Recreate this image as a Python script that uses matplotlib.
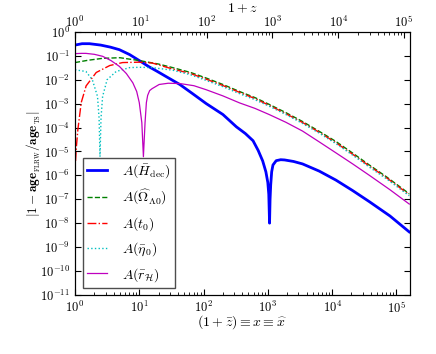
import matplotlib
matplotlib.use("Agg")
import matplotlib.pyplot as plt
from matplotlib.ticker import LogLocator, NullLocator

plt.rcParams["font.family"] = "serif"
plt.rcParams["font.serif"] = ["cmr10"]
plt.rcParams["mathtext.fontset"] = "cm"
plt.rcParams["axes.formatter.use_mathtext"] = True

# A(H_dec)
x_hdec = [1.0, 1.29, 1.68, 2.51, 3.55, 4.9, 7.08, 10, 14.1, 18.6, 28.2, 42.7, 67.6, 110,
          200, 324, 447, 589, 708, 832, 933, 1000, 1035, 1064, 1084, 1109, 1148, 1202,
          1349, 1585, 1820, 2512, 3467, 6310, 11480, 20900, 38000, 79400, 158500]
y_hdec = [0.28, 0.32, 0.32, 0.28, 0.23, 0.18, 0.112, 0.063, 0.035, 0.023, 0.012, 6.3e-3,
          2.6e-3, 1.0e-3, 3.5e-4, 1.07e-4, 5.6e-5, 2.8e-5, 1.1e-5, 4.0e-6, 1.4e-6, 5.0e-7,
          1.6e-7, 1.0e-8, 1.0e-7, 4.0e-7, 1.4e-6, 2.7e-6, 4.1e-6, 4.5e-6, 4.4e-6, 3.8e-6,
          3.0e-6, 1.5e-6, 6.3e-7, 2.3e-7, 7.9e-8, 2.0e-8, 4.3e-9]

# A(Omega_Lambda0)
x_omega = [1.0, 1.6, 2.69, 5.0, 10, 20, 33, 63, 110, 200, 363, 631, 1047, 1905, 3467,
           6310, 11480, 20900, 38000, 70800, 158500]
y_omega = [0.052, 0.065, 0.078, 0.083, 0.063, 0.045, 0.032, 0.020, 0.0117, 6.3e-3, 3.2e-3,
           1.78e-3, 9.3e-4, 4.2e-4, 1.78e-4, 6.9e-5, 2.6e-5, 8.5e-6, 2.7e-6, 8.5e-7, 1.7e-7]

# A(t0)
x_t0 = [1.02, 1.05, 1.107, 1.25, 1.49, 2.14, 3.47, 5.5, 10, 15.8, 33, 63, 110, 200, 363,
        631, 1047, 1905, 3467, 6310, 11480, 20900, 38000, 70800, 158500]
y_t0 = [4.0e-6, 1.5e-5, 7.9e-5, 1.1e-3, 5.5e-3, 0.020, 0.039, 0.052, 0.054, 0.050, 0.028,
        0.018, 0.0105, 5.7e-3, 2.95e-3, 1.62e-3, 8.5e-4, 3.8e-4, 1.62e-4, 6.3e-5, 2.3e-5,
        7.6e-6, 2.45e-6, 7.8e-7, 1.55e-7]

# A(eta0)
x_eta = [1.0, 1.48, 1.86, 2.24, 2.37, 2.45, 2.54, 2.69, 3.16, 4.37, 7.08, 10, 15.8, 33,
         63, 110, 200, 363, 631, 1047, 1905, 3467, 6310, 11480, 20900, 38000, 70800, 158500]
y_eta = [0.026, 0.022, 0.010, 2.0e-3, 2.5e-4, 6.0e-6, 2.5e-4, 2.0e-3, 0.010, 0.022, 0.032,
         0.033, 0.032, 0.025, 0.016, 9.3e-3, 5.1e-3, 2.6e-3, 1.45e-3, 7.8e-4, 3.5e-4,
         1.48e-4, 5.8e-5, 2.1e-5, 7.0e-6, 2.2e-6, 7.0e-7, 1.4e-7]

# A(r_H)
x_rh = [1.0, 1.26, 1.48, 2.0, 2.69, 3.63, 4.9, 6.3, 7.94, 9.12, 10, 10.96, 11.6, 12.3, 12.9,
        13.5, 14.5, 15.8, 20.4, 28.2, 42.7, 70.8, 110, 200, 363, 631, 1047, 1905, 3467,
        6310, 11480, 20900, 38000, 79400, 158500]
y_rh = [0.123, 0.126, 0.126, 0.115, 0.095, 0.063, 0.036, 0.018, 7.4e-3, 3.2e-3, 1.1e-3,
        1.6e-4, 6.0e-6, 1.6e-4, 1.1e-3, 2.2e-3, 3.5e-3, 4.2e-3, 6.3e-3, 7.1e-3, 6.9e-3,
        5.6e-3, 3.8e-3, 2.1e-3, 1.07e-3, 6.3e-4, 3.5e-4, 1.66e-4, 7.1e-5, 2.5e-5, 8.7e-6,
        3.0e-6, 1.0e-6, 2.5e-7, 6.3e-8]

labels = [r"$A(\bar{H}_{\rm dec})$", r"$A(\widehat{\Omega}_{\Lambda 0})$", r"$A(t_0)$",
          r"$A(\bar{\eta}_0)$", r"$A(\bar{r}_{\mathcal{H}})$"]

fig = plt.figure(figsize=(4.36, 3.54), dpi=100)
ax = fig.add_axes([0.172, 0.167, 0.768, 0.743])

ax.loglog(x_hdec, y_hdec, "-", color="b", lw=2.0, label=labels[0])
ax.loglog(x_omega, y_omega, "--", color="g", lw=1.0, label=labels[1])
ax.loglog(x_t0, y_t0, "-.", color="r", lw=1.0, label=labels[2])
ax.loglog(x_eta, y_eta, ":", color="c", lw=1.0, label=labels[3])
ax.loglog(x_rh, y_rh, "-", color="m", lw=0.9, label=labels[4])

ax.set_xlim(1, 1.62e5)
ax.set_ylim(1e-11, 1)
ax.yaxis.set_major_locator(LogLocator(base=10, numticks=20))
ax.yaxis.set_minor_locator(NullLocator())
ax.tick_params(which="both", direction="in", labelsize=9, right=True, top=False)
ax.tick_params(which="major", length=4)
ax.tick_params(which="minor", length=2)

ax.set_xlabel(r"$(1+\bar{z}) \equiv x \equiv \widehat{x}$", fontsize=10, labelpad=-1.5)
ax.set_ylabel(r"$|1-\mathbf{age}_{_{\rm FLRW}}/\mathbf{age}_{_{\rm TS}}|$", fontsize=9.5,
              labelpad=-2)

top = ax.twiny()
top.set_xscale("log")
top.set_xlim(1, 1.23e5)
top.tick_params(which="both", direction="in", labelsize=9, pad=1)
top.tick_params(which="major", length=4)
top.tick_params(which="minor", length=2)
top.set_xlabel(r"$1+z$", fontsize=10, labelpad=2)

leg = ax.legend(loc="lower left", bbox_to_anchor=(0.024, 0.027), borderaxespad=0,
                fontsize=10, handlelength=1.4, handletextpad=1.1, labelspacing=0.55,
                borderpad=0.3, fancybox=False, framealpha=1, edgecolor="0.3")
leg.get_frame().set_linewidth(1.0)

fig.savefig("out.png", dpi=100)
